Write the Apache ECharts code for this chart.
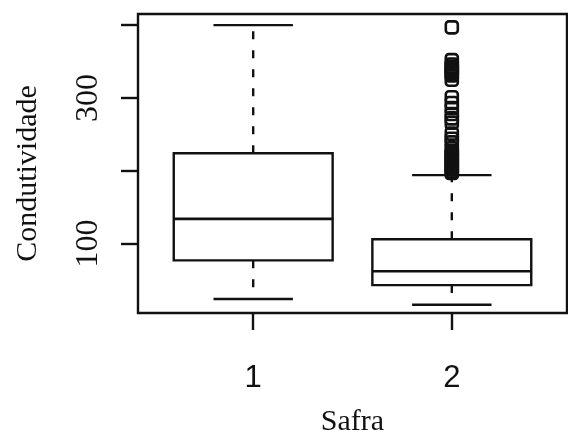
<!DOCTYPE html>
<html>
<head>
<meta charset="utf-8">
<script src="https://cdn.jsdelivr.net/npm/echarts@6/dist/echarts.min.js"></script>
<style>
  html, body { margin: 0; padding: 0; background: #fff; }
  #chart { width: 568px; height: 442px; }
</style>
</head>
<body>
<div id="chart"></div>
<script>
// Conductivity by harvest (Safra): five-number summaries and outliers
var safras = ['1', '2'];
var whiskerLow = [24, 16];
var quartile1 = [77, 43];
var medians = [134, 62];
var quartile3 = [224, 106];
var whiskerHigh = [400, 194];
var outliers2 = [397,
                 352, 346, 343, 340, 337, 334, 331, 325,
                 301, 293, 286, 278, 272, 266,
                 251, 244, 239, 231, 226, 223, 220, 217, 214, 211, 208, 205, 202, 199, 197];
var yTicks = [100, 200, 300, 400];
var yLabels = [100, 300];

var boxData = safras.map(function (s, i) {
  return [i + 1, whiskerLow[i], quartile1[i], medians[i], quartile3[i], whiskerHigh[i]];
});
var outlierData = outliers2.map(function (v) { return [2, v]; });

var chart = echarts.init(document.getElementById('chart'));
var INK = '#111';
var LW = 2.4;

function renderBox(params, api) {
  var x = api.value(0);
  var pMin = api.coord([x, api.value(1)]);
  var pQ1 = api.coord([x, api.value(2)]);
  var pMed = api.coord([x, api.value(3)]);
  var pQ3 = api.coord([x, api.value(4)]);
  var pMax = api.coord([x, api.value(5)]);
  var half = api.size([0.8, 0])[0] / 2;
  var cap = half / 2;
  var cx = pMed[0];
  var solid = { stroke: INK, lineWidth: LW, fill: null };
  var dashed = { stroke: INK, lineWidth: LW, lineDash: [8, 11], fill: null };
  return {
    type: 'group',
    children: [
      { type: 'line', shape: { x1: cx, y1: pQ3[1], x2: cx, y2: pMax[1] }, style: dashed },
      { type: 'line', shape: { x1: cx, y1: pQ1[1], x2: cx, y2: pMin[1] }, style: dashed },
      { type: 'line', shape: { x1: cx - cap, y1: pMax[1], x2: cx + cap, y2: pMax[1] }, style: solid },
      { type: 'line', shape: { x1: cx - cap, y1: pMin[1], x2: cx + cap, y2: pMin[1] }, style: solid },
      { type: 'rect', shape: { x: cx - half, y: pQ3[1], width: half * 2, height: pQ1[1] - pQ3[1] },
        style: { stroke: INK, lineWidth: LW, fill: '#fff' } },
      { type: 'line', shape: { x1: cx - half, y1: pMed[1], x2: cx + half, y2: pMed[1] },
        style: { stroke: INK, lineWidth: 2.6 } }
    ]
  };
}

chart.setOption({
  animation: false,
  backgroundColor: '#fff',
  grid: {
    left: 138, top: 14, width: 429, height: 323,
    show: true, borderColor: INK, borderWidth: LW, backgroundColor: 'transparent'
  },
  xAxis: {
    type: 'value', min: 0.42, max: 2.58,
    name: 'Safra', nameLocation: 'middle', nameGap: 94,
    nameTextStyle: { fontFamily: 'Liberation Serif', fontSize: 30, color: INK },
    axisLine: { show: false },
    splitLine: { show: false },
    axisTick: { show: true, length: 17, customValues: [1, 2], lineStyle: { color: INK, width: LW } },
    axisLabel: {
      customValues: [1, 2], margin: 50,
      formatter: function (v) { return safras[Math.round(v) - 1]; },
      fontFamily: 'Liberation Sans', fontSize: 31, color: INK
    }
  },
  yAxis: {
    type: 'value', min: 4.7, max: 415.3,
    name: 'Condutividade', nameLocation: 'middle', nameGap: 95, nameRotate: 90,
    nameTextStyle: { fontFamily: 'Liberation Serif', fontSize: 30, color: INK, padding: [0, 20, 0, 0] },
    axisLine: { show: false },
    splitLine: { show: false },
    axisTick: { show: true, length: 17, customValues: yTicks, lineStyle: { color: INK, width: LW } },
    axisLabel: {
      customValues: yLabels, rotate: 90, margin: 33,
      fontFamily: 'Liberation Sans Narrow', fontSize: 32, color: INK
    }
  },
  series: [
    {
      type: 'custom',
      renderItem: renderBox,
      encode: { x: 0, y: [1, 2, 3, 4, 5] },
      data: boxData,
      z: 2
    },
    {
      type: 'scatter',
      data: outlierData,
      symbol: 'roundRect',
      symbolSize: [12, 12],
      itemStyle: { color: 'rgba(0,0,0,0)', borderColor: INK, borderWidth: 2.6, opacity: 1 },
      z: 3
    }
  ]
});
</script>
</body>
</html>
